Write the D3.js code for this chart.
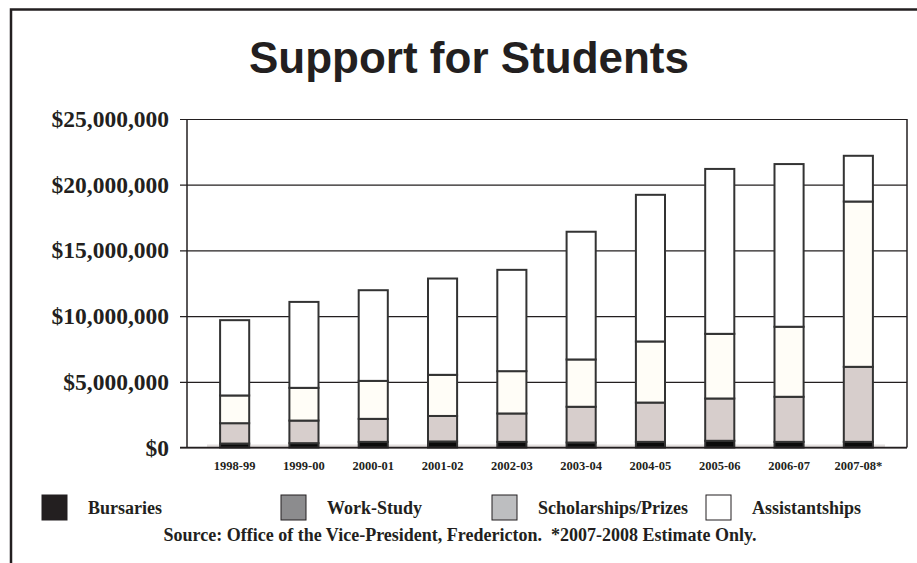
<!DOCTYPE html>
<html>
<head>
<meta charset="utf-8">
<script src="https://cdn.jsdelivr.net/npm/d3@7"></script>
<style>
  html, body { margin: 0; padding: 0; background: #fff; }
  svg { display: block; }
</style>
</head>
<body>
<svg id="chart" width="917" height="563"></svg>
<script>
// Academic years on the category axis
const years = ["1998-99", "1999-00", "2000-01", "2001-02", "2002-03",
               "2003-04", "2004-05", "2005-06", "2006-07", "2007-08*"];

// Dollar amounts per funding type, in millions
const bursaries       = [0.30, 0.33, 0.43, 0.46, 0.43, 0.38, 0.43, 0.51, 0.43, 0.43];
const workStudy       = [1.55, 1.72, 1.75, 1.94, 2.16, 2.72, 2.99, 3.22, 3.43, 5.71];
const scholarships    = [2.11, 2.49, 2.89, 3.13, 3.22, 3.60, 4.65, 4.92, 5.33, 12.58];
const assistantships  = [5.73, 6.54, 6.90, 7.33, 7.71, 9.72, 11.16, 12.55, 12.38, 3.48];

const seriesNames = ["Bursaries", "Work-Study", "Scholarships/Prizes", "Assistantships"];
const yTicks = [0, 5e6, 10e6, 15e6, 20e6, 25e6];

const title = "Support for Students";
const source = "Source: Office of the Vice-President, Fredericton.  *2007-2008 Estimate Only.";

// Build stack input
const keys = ["b", "w", "s", "a"];
const rows = years.map((yr, i) => ({
  year: yr,
  b: bursaries[i] * 1e6,
  w: workStudy[i] * 1e6,
  s: scholarships[i] * 1e6,
  a: assistantships[i] * 1e6
}));
const stacked = d3.stack().keys(keys)(rows);

const barFill    = { b: "#0b0b0b", w: "#d7cecc", s: "#fffdf7", a: "#ffffff" };
const legendFill = ["#231f20", "#8c8c8e", "#bdbec0", "#ffffff"];

const svg = d3.select("#chart");
const ink = "#231f20";
const serif = "'Liberation Serif', 'Times New Roman', serif";

// Outer frame (top and left edges)
svg.append("path")
  .attr("d", "M11,563 L11,9.5 L917,9.5")
  .attr("fill", "none").attr("stroke", ink).attr("stroke-width", 2.5);

// Title
svg.append("text")
  .attr("x", 469).attr("y", 73)
  .attr("text-anchor", "middle")
  .attr("font-family", "'Liberation Sans', Arial, sans-serif")
  .attr("font-weight", "bold").attr("font-size", 44)
  .attr("fill", ink)
  .text(title);

// Plot geometry
const plotL = 187, plotR = 907, plotT = 119, plotB = 447.5;

const y = d3.scaleLinear().domain([0, 25e6]).range([plotB, plotT]);
const x = d3.scaleBand().domain(years).range([200, 893])
  .paddingInner(0.58).paddingOuter(0.29);

// Gridlines and y labels
const yAxis = d3.axisLeft(y)
  .tickValues(yTicks)
  .tickSize(plotR - 180)
  .tickPadding(11)
  .tickFormat(d => "$" + d3.format(",")(d));

const gy = svg.append("g")
  .attr("transform", `translate(${plotR},0)`)
  .call(yAxis);
gy.select(".domain").remove();
gy.selectAll(".tick line").attr("stroke", ink).attr("stroke-width", 1.2);
gy.selectAll(".tick text")
  .attr("font-family", serif).attr("font-weight", "bold")
  .attr("font-size", 23.5).attr("fill", ink);

// Left and right edges of the plot
svg.append("line").attr("x1", plotL).attr("x2", plotL)
  .attr("y1", plotT).attr("y2", plotB)
  .attr("stroke", ink).attr("stroke-width", 1.5);
svg.append("line").attr("x1", plotR).attr("x2", plotR)
  .attr("y1", plotT).attr("y2", plotB)
  .attr("stroke", ink).attr("stroke-width", 1.5);

// Floor strip under the bars
svg.append("rect")
  .attr("x", 207).attr("width", 885 - 207)
  .attr("y", plotB - 3).attr("height", 3)
  .attr("fill", "#e4e0df");

// Stacked bars
const barW = x.bandwidth();
svg.append("g").selectAll("g")
  .data(stacked)
  .join("g")
  .selectAll("rect")
  .data(s => s.map(d => ({ key: s.key, d })))
  .join("rect")
  .attr("x", p => x(p.d.data.year))
  .attr("width", barW)
  .attr("y", p => y(p.d[1]))
  .attr("height", p => y(p.d[0]) - y(p.d[1]))
  .attr("fill", p => barFill[p.key])
  .attr("stroke", "#333")
  .attr("stroke-width", 2);

// Baseline
svg.append("line").attr("x1", 180).attr("x2", plotR)
  .attr("y1", plotB).attr("y2", plotB)
  .attr("stroke", ink).attr("stroke-width", 1.5);

// Category labels
const gx = svg.append("g")
  .attr("transform", `translate(0,${plotB})`)
  .call(d3.axisBottom(x).tickSize(0).tickPadding(14));
gx.select(".domain").remove();
gx.selectAll(".tick text")
  .attr("font-family", serif).attr("font-weight", "bold")
  .attr("font-size", 12.5).attr("fill", ink);

// Legend
const legendX = [42, 281, 492, 706];
const lg = svg.append("g").selectAll("g")
  .data(seriesNames)
  .join("g")
  .attr("transform", (d, i) => `translate(${legendX[i]},495)`);
lg.append("rect")
  .attr("width", 25).attr("height", 25)
  .attr("fill", (d, i) => legendFill[i])
  .attr("stroke", ink).attr("stroke-width", 1);
lg.append("text")
  .attr("x", 46).attr("y", 18.5)
  .attr("font-family", serif).attr("font-weight", "bold")
  .attr("font-size", 18).attr("fill", ink)
  .text(d => d);

// Source note
svg.append("text")
  .attr("x", 460).attr("y", 541)
  .attr("text-anchor", "middle")
  .attr("font-family", serif).attr("font-weight", "bold")
  .attr("font-size", 18).attr("fill", ink)
  .attr("xml:space", "preserve")
  .style("white-space", "pre")
  .text(source);
</script>
</body>
</html>
